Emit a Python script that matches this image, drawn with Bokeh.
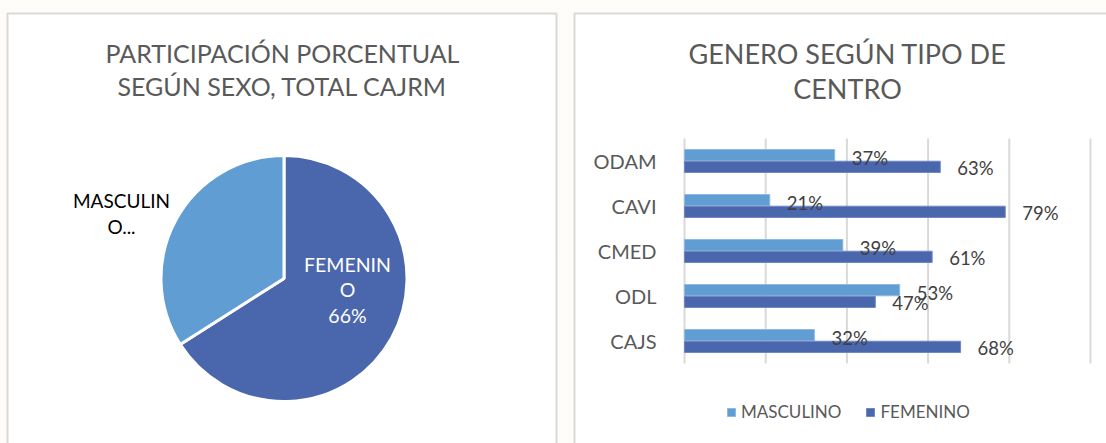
import math
from bokeh.plotting import figure
from bokeh.layouts import row
from bokeh.models import (Range1d, ColumnDataSource, Legend, LegendItem)
from bokeh.transform import dodge
from bokeh.core.properties import value
from bokeh.embed import file_html
from bokeh.resources import INLINE

# ---------------- data ----------------
pie_labels = ["FEMENINO", "MASCULINO"]
pie_values = [66, 34]
pie_texts = ["FEMENIN\nO\n66%", "MASCULIN\nO..."]

centros = ["ODAM", "CAVI", "CMED", "ODL", "CAJS"]
masculino = [37, 21, 39, 53, 32]
femenino = [63, 79, 61, 47, 68]
grid_ticks = [0, 20, 40, 60, 80, 100]

title_left = "PARTICIPACIÓN PORCENTUAL\nSEGÚN SEXO, TOTAL CAJRM"
title_right = "GENERO SEGÚN TIPO DE\nCENTRO"

FONT = "Lato"
C_LIGHT = "#5F9DD2"
C_DARK = "#4A67AD"
C_TEXT = "#595959"
C_LABEL = "#404040"
C_BORDER = "#D9D9D9"
C_BG = "#FDFCF8"

H = 443

# ---------------- left: pie ----------------
W1 = 565
p1 = figure(width=W1, height=H, x_range=Range1d(0, W1), y_range=Range1d(0, H),
            output_backend="svg", toolbar_location=None, min_border=0)
p1.axis.visible = False
p1.grid.visible = False
p1.outline_line_color = None
p1.background_fill_color = C_BG
p1.border_fill_color = C_BG


def py1(page_y):
    return H - page_y


# panel
p1.quad(left=7, right=556, top=py1(13), bottom=-10, fill_color="white",
        line_color=C_BORDER, line_width=2)

total = sum(pie_values)
starts, ends = [], []
acc = 0.0
for v in pie_values:
    starts.append(math.pi / 2 - 2 * math.pi * acc / total)
    acc += v
    ends.append(math.pi / 2 - 2 * math.pi * acc / total)
pie_src = ColumnDataSource(dict(label=pie_labels, start=starts, end=ends,
                                color=[C_DARK, C_LIGHT]))
cx, cy, R = 283.5, py1(278), 123
p1.wedge(x=cx, y=cy, radius=R, start_angle="start", end_angle="end",
         direction="clock", fill_color="color", line_color="white", line_width=3,
         source=pie_src)

p1.text(x=[347], y=[py1(289.5)], text=[pie_texts[0]], text_font=value(FONT),
        text_font_size="19.5px", text_color="white", text_align="center",
        text_baseline="middle", text_line_height=1.09)
p1.text(x=[121], y=[py1(213)], text=[pie_texts[1]], text_font=value(FONT),
        text_font_size="19px", text_color="black", text_align="center",
        text_baseline="middle", text_line_height=1.14)

p1.text(x=[282], y=[py1(69)], text=[title_left], text_font=value(FONT),
        text_font_size="25px", text_color=C_TEXT, text_align="center",
        text_baseline="middle", text_line_height=1.13)

# ---------------- right: bars ----------------
X_LEFT = 565                       # page column where the right figure starts
W2 = 1106 - X_LEFT
X0_PX, X100_PX = 684 - X_LEFT, 1090 - X_LEFT   # pixel columns of 0 % and 100 %
SX = (X100_PX - X0_PX) / 100.0
Y0_PX, DY_PX = 340.5, 45.0         # pixel row of the bottom category, step


def px_x(px):
    return (px - X0_PX) / SX


def px_y(py):
    return (Y0_PX - py) / DY_PX


p2 = figure(width=W2, height=H, x_range=Range1d(px_x(0), px_x(W2)),
            y_range=Range1d(px_y(H), px_y(0)),
            output_backend="svg", toolbar_location=None, min_border=0)
p2.outline_line_color = None
p2.background_fill_color = C_BG
p2.border_fill_color = C_BG
p2.axis.visible = False
p2.grid.visible = False

n = len(centros)
ypos = [n - 1 - i for i in range(n)]

# panel
p2.quad(left=px_x(574 - X_LEFT), right=px_x(W2 + 20), top=px_y(13),
        bottom=px_y(H + 20), fill_color="white", line_color=C_BORDER, line_width=2)

# vertical grid lines
p2.segment(x0=grid_ticks, x1=grid_ticks, y0=[-0.5] * len(grid_ticks),
           y1=[n - 0.5] * len(grid_ticks), line_color=C_BORDER, line_width=2)

src = ColumnDataSource(dict(cat=centros, y=ypos, masc=masculino, fem=femenino,
                            masc_t=[f"{v}%" for v in masculino],
                            fem_t=[f"{v}%" for v in femenino]))
off = 0.13
r_m = p2.hbar(y=dodge("y", off), left=0, right="masc",
              height=0.25, fill_color=C_LIGHT, line_color="#8DB9E2", line_width=1,
              source=src)
r_f = p2.hbar(y=dodge("y", -off), left=0, right="fem",
              height=0.25, fill_color=C_DARK, line_color="#6F87C2", line_width=1,
              source=src)
p2.text(x="masc", y=dodge("y", off), text="masc_t", source=src,
        x_offset=17, y_offset=3, text_font=value(FONT), text_font_size="18.5px",
        text_color=C_LABEL, text_baseline="middle")
p2.text(x="fem", y=dodge("y", -off), text="fem_t", source=src,
        x_offset=17, y_offset=1, text_font=value(FONT), text_font_size="18.5px",
        text_color=C_LABEL, text_baseline="middle")

# category labels
p2.text(x=0, y="y", text="cat", source=src, x_offset=-28,
        text_font=value(FONT), text_font_size="20px", text_color=C_TEXT,
        text_align="right", text_baseline="middle")

# title
p2.text(x=[px_x(847 - X_LEFT)], y=[px_y(70.5)], text=[title_right],
        text_font=value(FONT), text_font_size="27px", text_color=C_TEXT,
        text_align="center", text_baseline="middle", text_line_height=1.08)

legend = Legend(items=[LegendItem(label="MASCULINO", renderers=[r_m]),
                       LegendItem(label="FEMENINO", renderers=[r_f])],
                orientation="horizontal", location=(726 - X_LEFT, 21),
                glyph_width=10, glyph_height=10, label_standoff=5, spacing=24,
                padding=0, margin=0, border_line_color=None,
                background_fill_alpha=0, label_text_font=FONT,
                label_text_font_size="17px", label_text_color=C_TEXT)
p2.add_layout(legend)

layout = row(p1, p2, spacing=0)
with open("out.html", "w") as f:
    f.write(file_html(layout, INLINE))
